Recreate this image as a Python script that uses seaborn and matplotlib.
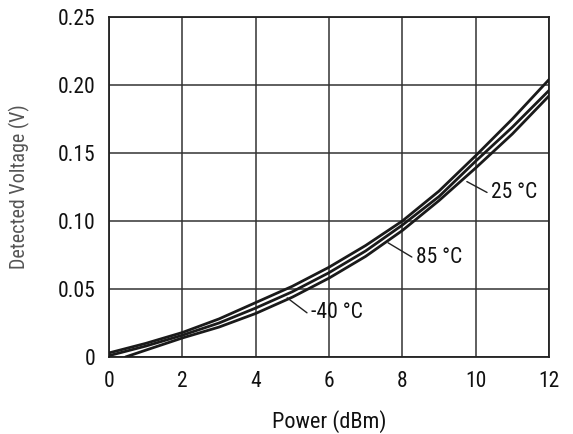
import numpy as np
import pandas as pd
import matplotlib
matplotlib.use("Agg")
import matplotlib.pyplot as plt
import seaborn as sns

# values (power in dBm, detected voltage in V)
power = [0, 1, 2, 3, 4, 5, 6, 7, 8, 9, 10, 11, 12]
v_top = [0.003, 0.010, 0.018, 0.028, 0.040, 0.052, 0.066, 0.082, 0.100, 0.122, 0.148, 0.175, 0.204]
v_mid = [0.001, 0.008, 0.016, 0.025, 0.036, 0.048, 0.062, 0.078, 0.097, 0.118, 0.144, 0.169, 0.196]
power_low = [0.45, 1, 2, 3, 4, 5, 6, 7, 8, 9, 10, 11, 12]
v_low = [0.0, 0.005, 0.014, 0.022, 0.032, 0.044, 0.058, 0.074, 0.093, 0.115, 0.139, 0.164, 0.192]

labels = ["25 °C", "85 °C", "-40 °C"]
# leader line start / end (data coordinates)
leader_from = [(9.76, 0.129), (7.61, 0.084), (4.86, 0.0435)]
leader_to = [(10.31, 0.121), (8.26, 0.0735), (5.40, 0.0325)]

xticks = [0, 2, 4, 6, 8, 10, 12]
yticks = [0, 0.05, 0.10, 0.15, 0.20, 0.25]
ytick_labels = ["0", "0.05", "0.10", "0.15", "0.20", "0.25"]

sns.set_style("white")
plt.rcParams['font.family'] = ['Roboto Condensed', 'Liberation Sans Narrow', 'Roboto', 'DejaVu Sans']

fig = plt.figure(figsize=(5.73, 4.34), dpi=100)
ax = fig.add_axes([0.1902, 0.1774, 0.7679, 0.7834])

df_top = pd.DataFrame({'power': power, 'v': v_top})
df_mid = pd.DataFrame({'power': power, 'v': v_mid})
df_low = pd.DataFrame({'power': power_low, 'v': v_low})
for d in [df_top, df_mid, df_low]:
    sns.lineplot(data=d, x='power', y='v', ax=ax, color='#1a1a1a', linewidth=2.0, zorder=3)

ax.set_xlim(0, 12)
ax.set_ylim(0, 0.25)
ax.set_xticks(xticks)
ax.set_yticks(yticks)
ax.set_yticklabels(ytick_labels)
ax.grid(True, color='#333333', linewidth=1.1)
for s in ax.spines.values():
    s.set_color('#222222')
    s.set_linewidth(1.3)
ax.tick_params(length=0, labelsize=15.5, pad=10, labelcolor='#111111')

ax.set_xlabel('Power (dBm)', fontsize=16, labelpad=13, color='#111111')
ax.set_ylabel('Detected Voltage (V)', fontsize=14.5, labelpad=20, color='#555555')

for lab, p0, p1 in zip(labels, leader_from, leader_to):
    ax.plot([p0[0], p1[0]], [p0[1], p1[1]], color='#222222', linewidth=1.0, zorder=4)
    ax.text(p1[0] + 0.1, p1[1], lab, fontsize=15.5, ha='left', va='center', color='#111111')

fig.savefig('out.png', dpi=100)
